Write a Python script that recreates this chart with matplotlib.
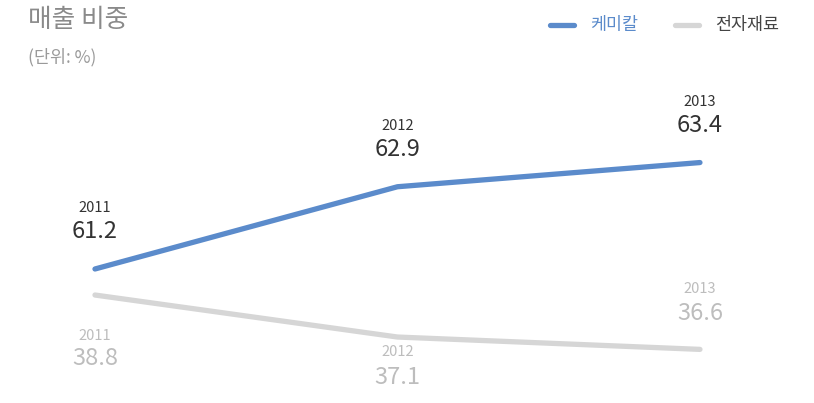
import numpy as np
import matplotlib
matplotlib.use('Agg')
import matplotlib.pyplot as plt
from matplotlib.lines import Line2D
import matplotlib.transforms as mtransforms

plt.rcParams['font.family'] = ['Noto Sans CJK KR', 'DejaVu Sans']

years = ['2011', '2012', '2013']
chemical = [61.2, 62.9, 63.4]     # 케미칼
electronic = [38.8, 37.1, 36.6]   # 전자재료

blue = '#5b8bcb'
gray_line = '#d6d6d6'
gray_text = '#bdbdbd'

fig = plt.figure(figsize=(8.14, 4.03), dpi=100)
ax1 = fig.add_axes([0, 0, 1, 1])
ax2 = ax1.twinx()
for a in (ax1, ax2):
    a.set_axis_off()

x = np.arange(len(years))
for a in (ax1, ax2):
    a.set_xlim(-0.314, 2.377)
ax1.set_ylim(58.43, 66.76)
ax2.set_ylim(34.43, 50.74)

ax1.plot(x, chemical, color=blue, lw=3.8, solid_capstyle='round', solid_joinstyle='round')
ax2.plot(x, electronic, color=gray_line, lw=3.8, solid_capstyle='round', solid_joinstyle='round')

# 케미칼 labels above points
for xi, yr, v in zip(x, years, chemical):
    ax1.annotate(yr, (xi, v), xytext=(0, 61), textcoords='offset pixels',
                 ha='center', va='center', fontsize=10.5, color='#333333')
    ax1.annotate(f'{v}', (xi, v), xytext=(0, 37), textcoords='offset pixels',
                 ha='center', va='center', fontsize=17, color='#333333')

# 전자재료 labels (first two below, last above the point)
offs = [(-41, -63), (-15, -40), (60, 36)]
for xi, yr, v, (oy, ov) in zip(x, years, electronic, offs):
    ax2.annotate(yr, (xi, v), xytext=(0, oy), textcoords='offset pixels',
                 ha='center', va='center', fontsize=10.5, color=gray_text)
    ax2.annotate(f'{v}', (xi, v), xytext=(0, ov), textcoords='offset pixels',
                 ha='center', va='center', fontsize=17, color=gray_text)

# title
fig.text(28 / 814, 1 - 20 / 403, '매출 비중', fontsize=18.5, color='#8a8a8a',
         ha='left', va='center')
fig.text(28 / 814, 1 - 57 / 403, '(단위: %)', fontsize=12.5, color='#9a9a9a',
         ha='left', va='center')

# legend
ly = 1 - 25 / 403
fig.add_artist(Line2D([550 / 814, 574 / 814], [ly, ly], color=blue, lw=3.8,
                      solid_capstyle='round', transform=fig.transFigure))
fig.text(590 / 814, ly, '케미칼', fontsize=12.5, color=blue, ha='left', va='center')
fig.add_artist(Line2D([675 / 814, 699 / 814], [ly, ly], color=gray_line, lw=3.8,
                      solid_capstyle='round', transform=fig.transFigure))
fig.text(715 / 814, ly, '전자재료', fontsize=12.5, color='#444444', ha='left', va='center')

fig.savefig('out.png', dpi=100, facecolor='white')
